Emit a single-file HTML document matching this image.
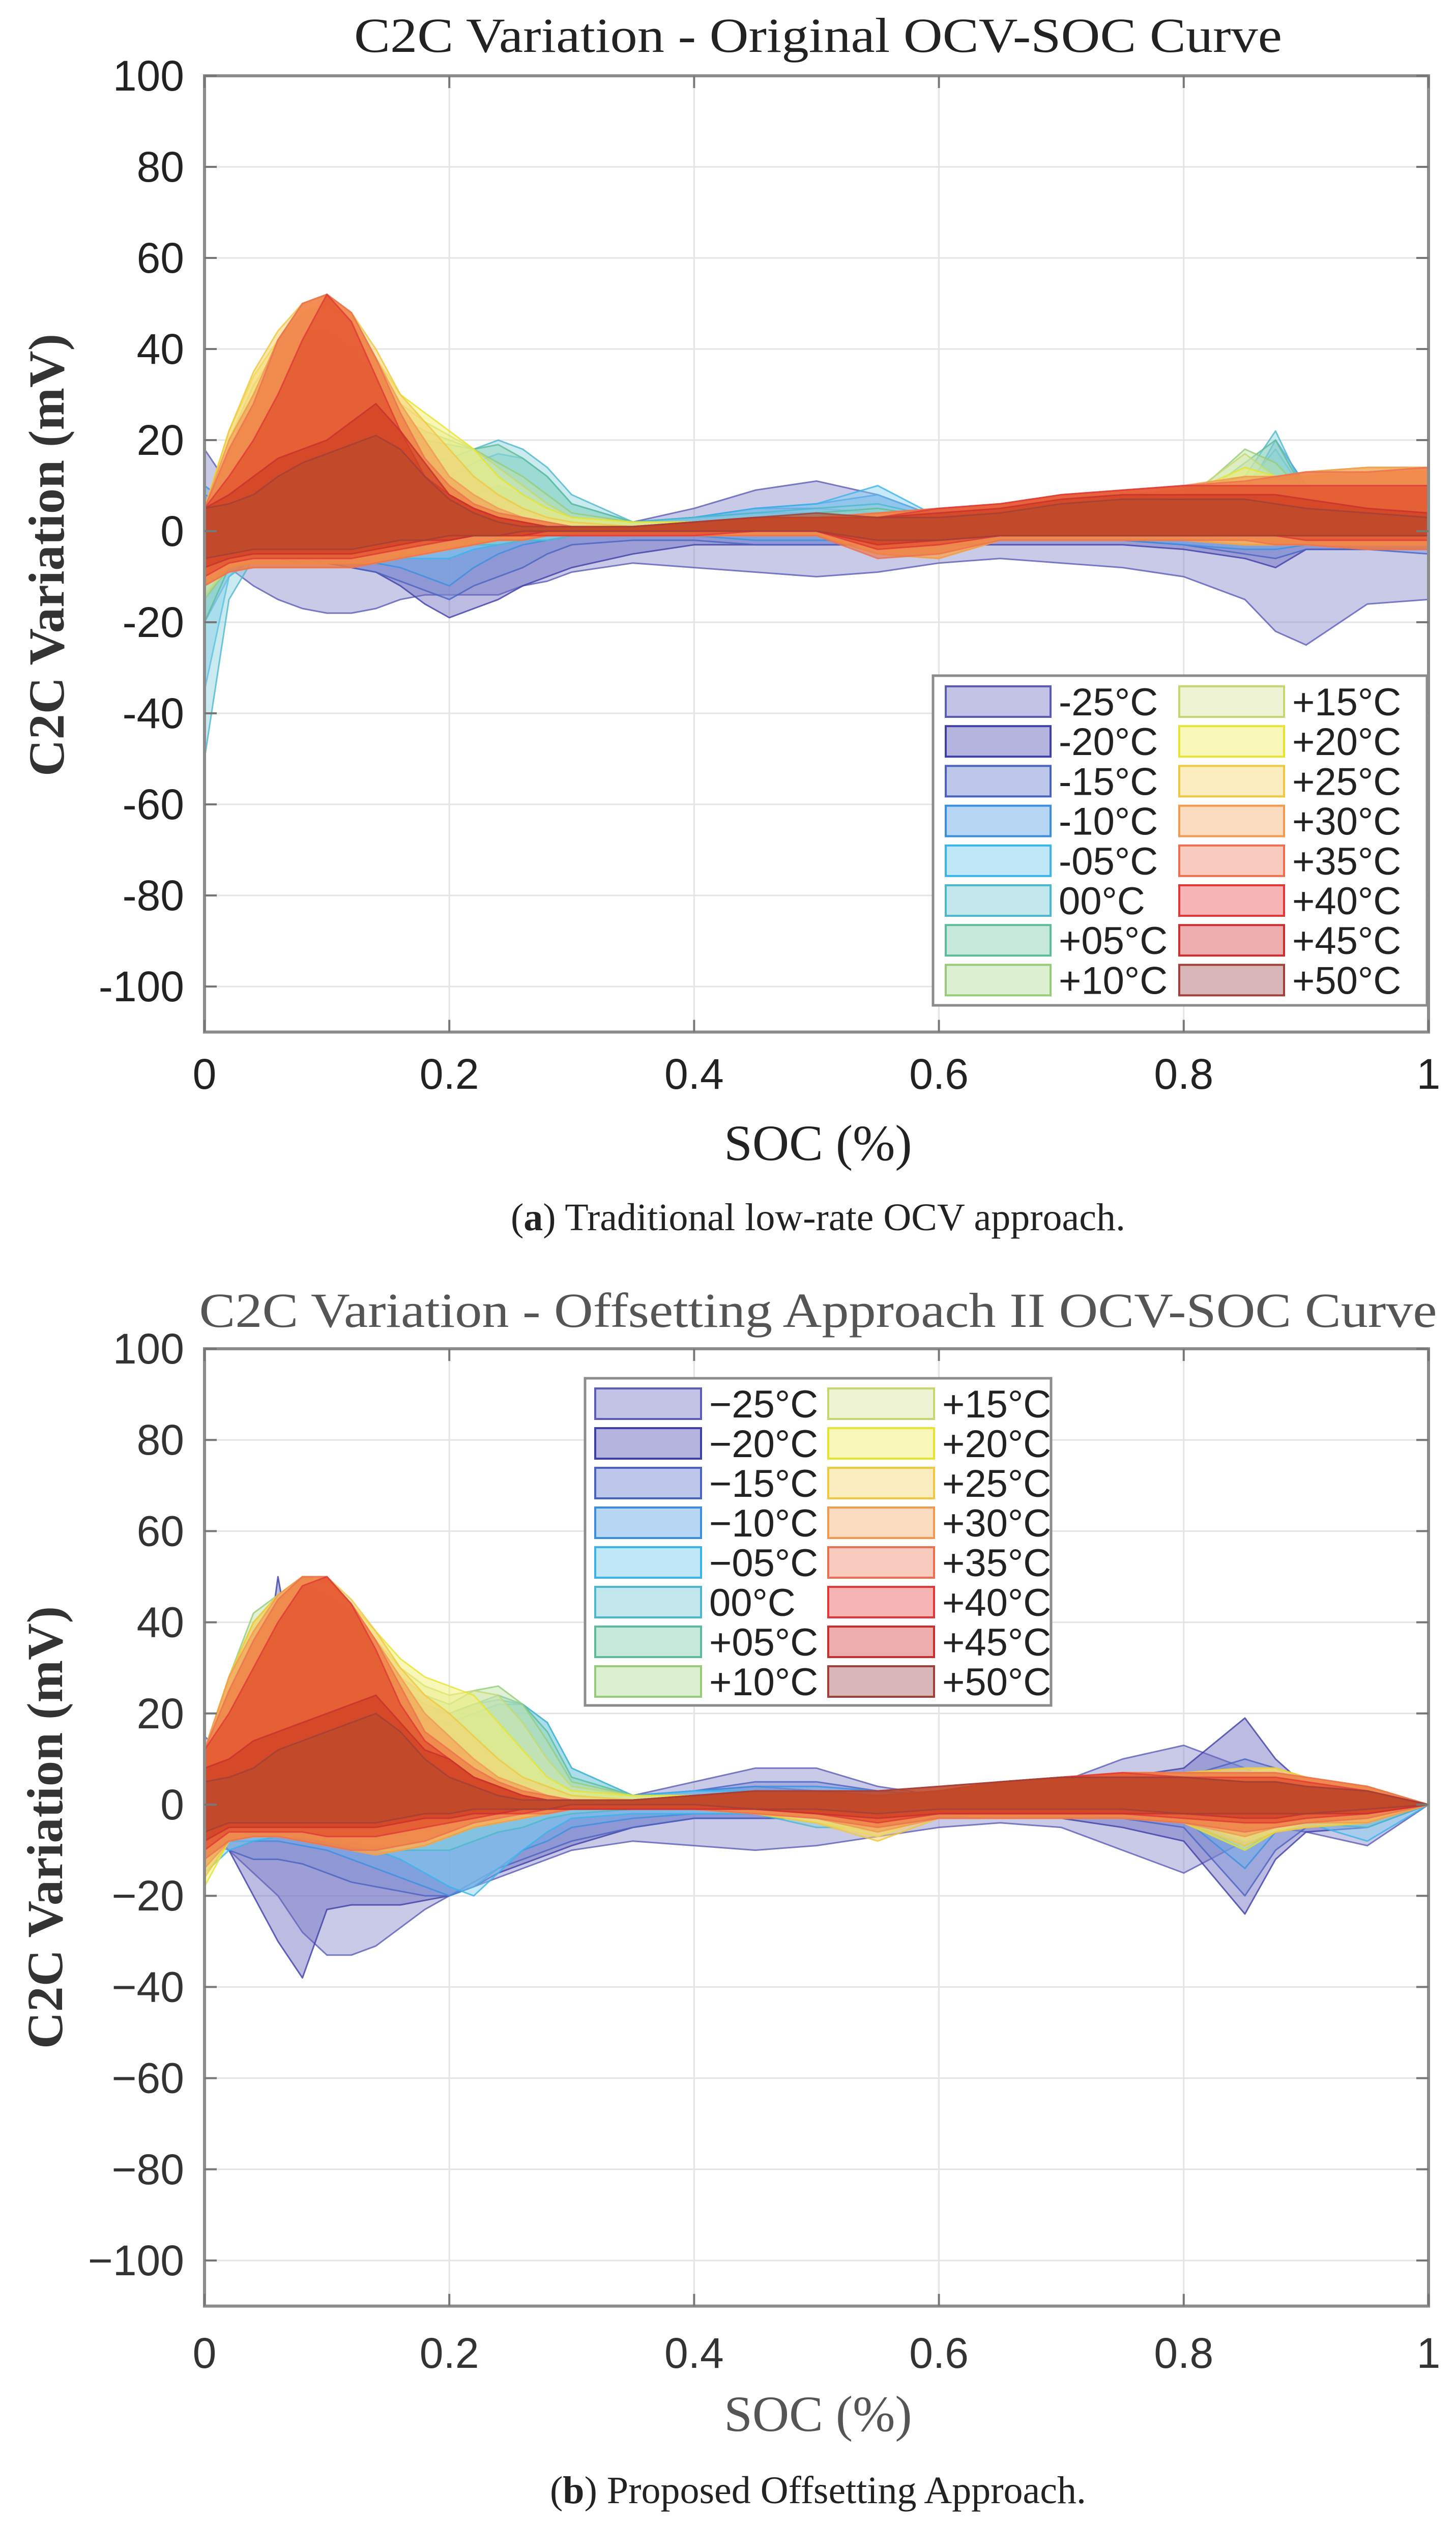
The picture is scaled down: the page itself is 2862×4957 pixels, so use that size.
<!DOCTYPE html>
<html><head><meta charset="utf-8"><style>
body{margin:0;background:#fff}
svg{display:block}
</style></head><body>
<svg id="fig" width="2862" height="4957" viewBox="0 0 2862 4957" xmlns="http://www.w3.org/2000/svg">
<rect width="2862" height="4957" fill="#fff"/>
</svg>
<script>
// ===== data =====
const socGrid = [0,0.02,0.04,0.06,0.08,0.10,0.12,0.14,0.16,0.18,0.20,0.22,0.24,0.26,0.28,0.30,0.35,0.40,0.45,0.50,0.55,0.60,0.65,0.70,0.75,0.80,0.85,0.875,0.90,0.95,1.0];
const tempLabels = ["-25°C","-20°C","-15°C","-10°C","-05°C","00°C","+05°C","+10°C","+15°C","+20°C","+25°C","+30°C","+35°C","+40°C","+45°C","+50°C"];
const yTicks = [100,80,60,40,20,0,-20,-40,-60,-80,-100];
const xTicks = [0,0.2,0.4,0.6,0.8,1];
const xTickLabels = ["0","0.2","0.4","0.6","0.8","1"];

// Chart A (original OCV) upper / lower bounds
const aUpper = [
[18,10,5,4,3,3,3,3,3,2,2,2,2,2,2,1,2,5,9,11,8,3,2,2,2,3,5,8,6,4,5],
[5,4,3,3,3,3,3,3,2,2,2,2,1,1,1,1,2,3,4,4,3,2,2,2,2,3,4,5,4,2,1],
[8,6,5,5,5,5,6,6,5,4,4,3,2,2,1,1,2,3,5,5,4,2,2,2,2,3,5,10,6,3,2],
[10,6,6,7,8,8,8,8,8,7,6,8,10,8,5,3,2,3,5,6,8,3,2,2,3,3,8,20,10,5,4],
[5,8,12,14,14,13,13,13,12,11,12,15,17,16,12,6,2,3,5,6,10,3,2,2,3,3,10,18,8,5,4],
[3,10,18,22,22,20,19,18,17,15,16,18,20,18,14,8,2,3,4,5,6,3,2,2,3,3,12,22,8,5,4],
[5,15,25,34,36,32,28,24,22,20,19,18,19,16,12,6,2,2,3,4,5,3,3,4,5,5,15,20,8,6,5],
[5,18,30,38,42,40,36,30,25,22,20,18,15,12,8,4,2,2,3,3,4,3,3,4,5,6,18,15,8,7,6],
[5,20,32,40,44,44,40,34,28,24,21,18,14,10,6,3,2,2,3,3,4,3,4,5,6,7,17,12,9,10,10],
[5,22,34,42,48,50,46,38,30,26,22,18,12,8,5,3,2,2,3,3,4,4,5,6,7,8,14,12,12,13,13],
[5,22,35,44,50,52,48,40,30,24,18,12,8,5,3,2,1,2,3,3,4,4,5,7,8,9,12,12,13,14,14],
[5,20,30,42,50,52,48,38,28,20,12,8,5,3,2,1,1,2,3,3,4,5,6,8,9,10,12,12,13,14,14],
[5,18,28,42,50,52,48,38,26,16,10,6,4,3,2,1,1,2,3,3,4,5,6,8,9,10,11,12,13,13,14],
[5,12,20,30,42,52,46,34,22,12,8,5,3,2,1,1,1,2,3,3,3,5,6,8,9,10,10,10,10,10,10],
[5,8,12,16,18,20,24,28,22,15,8,5,3,2,1,1,1,2,3,3,3,4,5,7,8,8,8,8,7,5,4],
[5,6,8,12,15,17,19,21,18,12,7,4,2,1,1,1,1,2,3,4,3,3,4,6,7,7,7,6,5,4,3]
];
const aLower = [
[-5,-8,-12,-15,-17,-18,-18,-17,-15,-14,-14,-14,-14,-12,-11,-9,-7,-8,-9,-10,-9,-7,-6,-7,-8,-10,-15,-22,-25,-16,-15],
[-3,-5,-6,-6,-7,-7,-8,-9,-12,-16,-19,-17,-15,-12,-10,-8,-5,-3,-3,-3,-3,-3,-3,-3,-3,-4,-6,-8,-4,-4,-4],
[-10,-8,-6,-6,-6,-7,-8,-9,-11,-13,-15,-12,-10,-8,-5,-3,-2,-2,-3,-3,-3,-2,-2,-2,-2,-3,-5,-6,-4,-4,-5],
[-20,-10,-6,-5,-5,-5,-6,-7,-8,-10,-12,-8,-5,-3,-2,-1,-1,-1,-2,-2,-2,-2,-2,-2,-2,-3,-4,-4,-3,-3,-3],
[-35,-10,-5,-4,-4,-4,-4,-5,-6,-6,-6,-4,-3,-2,-2,-1,-1,-1,-1,-1,-1,-1,-1,-1,-1,-2,-3,-3,-2,-2,-2],
[-50,-15,-6,-5,-5,-5,-5,-5,-5,-4,-4,-3,-3,-2,-2,-1,-1,-1,-1,-1,-1,-1,-1,-1,-1,-2,-3,-3,-2,-2,-2],
[-20,-8,-5,-5,-5,-5,-5,-5,-5,-4,-4,-3,-2,-2,-1,-1,-1,-1,-1,-1,-1,-1,-1,-1,-1,-1,-2,-2,-2,-2,-2],
[-15,-8,-6,-6,-6,-6,-6,-6,-5,-5,-4,-3,-2,-2,-1,-1,-1,-1,-1,-1,-2,-2,-1,-1,-1,-1,-2,-2,-2,-2,-2],
[-14,-8,-6,-6,-6,-6,-6,-6,-5,-5,-4,-3,-2,-2,-1,-1,-1,-1,-1,-1,-3,-3,-2,-2,-2,-2,-2,-3,-3,-3,-3],
[-12,-8,-7,-7,-7,-7,-7,-7,-6,-5,-4,-3,-2,-2,-1,-1,-1,-1,-1,-1,-4,-5,-2,-2,-2,-2,-3,-3,-3,-3,-3],
[-12,-8,-7,-7,-7,-7,-7,-7,-6,-5,-4,-3,-2,-2,-1,-1,-1,-1,-1,-1,-5,-6,-2,-2,-2,-2,-3,-3,-3,-3,-3],
[-12,-9,-8,-8,-8,-8,-8,-7,-6,-5,-4,-3,-2,-2,-1,-1,-1,-1,-1,-1,-5,-6,-2,-2,-2,-2,-3,-3,-3,-4,-4],
[-12,-9,-8,-8,-8,-8,-8,-7,-6,-5,-4,-3,-2,-2,-1,-1,-1,-1,-1,-1,-6,-5,-2,-2,-2,-2,-2,-3,-3,-4,-4],
[-10,-7,-6,-6,-6,-6,-6,-5,-4,-3,-2,-1,-1,-1,-1,-1,-1,-1,0,0,-4,-3,-1,-1,-1,-1,-1,-1,-2,-2,-2],
[-8,-6,-5,-5,-5,-5,-5,-4,-3,-2,-2,-1,-1,-1,0,0,0,0,0,0,-3,-2,-1,-1,-1,-1,-1,-1,-1,-1,-1],
[-6,-5,-4,-4,-4,-4,-4,-3,-2,-2,-1,-1,-1,0,0,0,0,0,0,0,-2,-2,-1,-1,-1,-1,-1,-1,-1,-1,-1]
];

// Chart B (offsetting approach II) upper / lower bounds
const bUpper = [
[15,10,8,6,5,5,4,4,3,3,3,2,2,2,2,1,2,5,8,8,4,2,3,5,10,13,8,5,4,3,0],
[12,8,10,50,20,6,5,4,3,3,3,2,2,2,2,1,2,3,4,3,2,2,3,4,6,8,19,10,4,3,0],
[10,8,8,8,8,8,8,7,6,5,4,3,2,2,1,1,2,3,5,5,3,2,3,4,5,6,10,8,4,3,0],
[10,8,8,10,12,12,12,11,10,9,8,7,6,5,4,2,2,3,4,4,3,2,3,4,5,5,6,6,4,3,0],
[12,15,25,45,40,30,26,22,20,19,18,20,22,22,18,8,2,3,3,3,2,2,3,4,5,5,6,6,4,3,0],
[10,20,38,45,44,38,33,28,24,21,20,22,23,22,18,8,2,2,3,3,2,2,3,4,5,5,6,6,4,3,0],
[10,25,40,45,45,40,35,30,26,22,20,22,24,22,16,6,2,2,3,3,2,2,3,4,5,6,6,6,4,3,0],
[10,28,42,46,46,42,38,32,28,24,22,25,26,22,14,5,2,2,3,3,2,3,4,5,6,7,7,7,5,4,0],
[10,28,40,46,48,46,42,36,30,26,24,25,24,18,10,4,2,2,3,3,2,3,4,5,6,7,7,8,6,4,0],
[12,28,40,46,50,49,44,38,32,28,26,24,18,12,6,3,2,2,3,3,2,3,4,6,7,7,8,8,6,4,0],
[12,28,40,46,50,50,45,38,30,24,20,15,10,6,4,2,1,2,3,3,2,3,5,6,7,7,8,8,6,4,0],
[12,28,38,46,50,50,44,36,28,20,15,10,6,4,2,1,1,2,3,3,2,3,5,6,7,7,7,7,6,4,0],
[12,25,36,45,50,50,44,36,26,16,12,8,5,3,2,1,1,2,3,3,2,3,5,6,7,7,7,7,6,4,0],
[12,20,30,40,48,50,44,34,22,14,10,6,4,2,1,1,1,2,3,3,2,3,5,6,7,6,6,6,5,3,0],
[8,10,14,16,18,20,22,24,18,12,10,6,4,2,1,1,1,2,3,3,3,4,5,6,6,6,5,5,4,3,0],
[5,6,8,12,14,16,18,20,16,10,6,4,2,1,1,1,1,2,3,3,3,4,5,6,6,6,5,5,4,3,0]
];
const bLower = [
[-5,-10,-15,-20,-28,-33,-33,-31,-27,-23,-20,-18,-16,-14,-12,-10,-8,-9,-10,-9,-7,-5,-4,-5,-10,-15,-8,-5,-6,-9,0],
[-5,-10,-20,-30,-38,-23,-22,-22,-22,-21,-20,-18,-15,-13,-11,-9,-5,-3,-3,-3,-3,-3,-3,-3,-5,-8,-24,-12,-6,-5,0],
[-8,-10,-12,-12,-13,-15,-17,-18,-19,-20,-20,-17,-14,-12,-10,-8,-5,-3,-3,-3,-3,-2,-2,-2,-3,-5,-20,-10,-5,-4,0],
[-10,-8,-8,-8,-9,-10,-12,-14,-16,-18,-20,-18,-14,-10,-8,-5,-3,-2,-2,-3,-3,-2,-2,-2,-2,-3,-14,-6,-4,-3,0],
[-15,-10,-8,-7,-7,-8,-9,-10,-12,-15,-18,-20,-15,-10,-6,-3,-2,-2,-2,-4,-5,-2,-2,-2,-2,-3,-10,-5,-4,-8,0],
[-12,-8,-6,-6,-6,-7,-8,-9,-10,-10,-10,-8,-6,-5,-3,-2,-1,-1,-2,-5,-5,-2,-2,-2,-2,-3,-8,-5,-4,-5,0],
[-12,-7,-6,-6,-6,-7,-8,-9,-9,-8,-7,-5,-4,-3,-2,-1,-1,-1,-2,-4,-5,-2,-2,-2,-2,-3,-6,-5,-4,-4,0],
[-14,-7,-6,-6,-6,-7,-8,-9,-9,-8,-7,-5,-4,-3,-2,-1,-1,-1,-2,-4,-6,-2,-2,-2,-2,-3,-7,-6,-4,-4,0],
[-15,-8,-6,-6,-6,-7,-8,-9,-9,-8,-7,-5,-4,-3,-2,-1,-1,-1,-2,-4,-6,-2,-2,-2,-2,-3,-8,-6,-4,-4,0],
[-18,-8,-7,-7,-7,-8,-9,-10,-10,-9,-7,-5,-4,-3,-2,-1,-1,-1,-2,-4,-7,-2,-3,-3,-3,-4,-10,-6,-5,-4,0],
[-16,-8,-7,-7,-8,-9,-10,-11,-10,-9,-7,-5,-4,-3,-2,-1,-1,-1,-2,-4,-8,-3,-3,-3,-3,-4,-9,-6,-5,-4,0],
[-14,-8,-7,-7,-8,-9,-10,-11,-10,-9,-7,-5,-4,-3,-2,-1,-1,-1,-2,-3,-6,-3,-3,-3,-3,-4,-7,-5,-4,-4,0],
[-12,-8,-7,-7,-8,-9,-10,-10,-9,-8,-6,-4,-3,-2,-2,-1,-1,-1,-2,-3,-5,-3,-3,-3,-3,-4,-6,-5,-4,-3,0],
[-10,-6,-6,-6,-6,-7,-7,-7,-6,-5,-4,-3,-2,-2,-1,-1,-1,-1,-1,-2,-4,-2,-2,-2,-2,-3,-4,-4,-3,-2,0],
[-8,-5,-5,-5,-5,-5,-5,-5,-4,-3,-3,-2,-2,-1,-1,-1,-1,-1,-1,-2,-3,-2,-2,-2,-2,-2,-3,-3,-2,-2,0],
[-6,-4,-4,-4,-4,-4,-4,-4,-3,-2,-2,-1,-1,-1,-1,0,0,0,-1,-1,-2,-1,-1,-1,-1,-2,-2,-2,-2,-1,0]
];

// ===== rendering =====
const NS = "http://www.w3.org/2000/svg";
const svg = document.getElementById("fig");
const strokeCols = ["#5c5cb8","#3f3fa8","#4a62c0","#3a8ee0","#38b4ea","#4cb8cc","#5cbc98","#96cc78","#c4d870","#e6e430","#eec840","#f09a50","#ec7050","#e03838","#c83030","#a04038"];
const fillCols = ["#8888cc","#6a6ac0","#7c90d4","#70aee8","#80d0f2","#88d0dc","#90d4b8","#bce0a4","#dce8a8","#f4f070","#f8d070","#f49a50","#ee7040","#e04a2a","#cc3e22","#b84a2a"];
const legendFill = ["#8888cc","#6a6ac0","#7c90d4","#70aee8","#80d0f2","#88d0dc","#90d4b8","#bce0a4","#dce8a8","#f4f070","#f8dc80","#f8b880","#f49880","#ee6a6a","#d85c5c","#b07070"];
const fillOp = [0.45,0.45,0.45,0.45,0.45,0.45,0.45,0.45,0.45,0.5,0.55,0.6,0.6,0.65,0.65,0.65];

function el(tag, attrs, parent){
  const e = document.createElementNS(NS, tag);
  for (const k in attrs) e.setAttribute(k, attrs[k]);
  (parent||svg).appendChild(e);
  return e;
}

function drawChart(c){
  const g = el("g", {});
  
  
  const xs = v => c.left + v*(c.right-c.left);
  const ys = v => c.y100 + (100-v)*c.k;
  const bottom = ys(-110);
  yTicks.forEach(t => {
    const ln = el("line", {x1:c.left,x2:c.right,y1:ys(t),y2:ys(t),stroke:"#e4e4e4","stroke-width":3}, g);
    
    
  });
  xTicks.forEach(t => {
    const ln = el("line", {x1:xs(t),x2:xs(t),y1:c.y100,y2:bottom,stroke:"#e4e4e4","stroke-width":3}, g);
    
    
  });
  for (let s=0; s<c.upper.length; s++){
    let d = "";
    socGrid.forEach((x,i)=>{ d += (i?"L":"M")+xs(x).toFixed(1)+","+ys(c.upper[s][i]).toFixed(1); });
    for (let i=socGrid.length-1;i>=0;i--){ d += "L"+xs(socGrid[i]).toFixed(1)+","+ys(c.lower[s][i]).toFixed(1); }
    d += "Z";
    const p = el("path", {d:d, fill:fillCols[s], "fill-opacity":fillOp[s], stroke:strokeCols[s], "stroke-width":3, "stroke-opacity":0.8, "stroke-linejoin":"round"}, g);
    
    
  }
  const box = el("rect", {x:c.left,y:c.y100,width:c.right-c.left,height:bottom-c.y100,fill:"none",stroke:"#8c8c8c","stroke-width":6}, g);
  
  
  yTicks.forEach(t => {
    el("line",{x1:c.left,x2:c.left+24,y1:ys(t),y2:ys(t),stroke:"#777","stroke-width":4},g);
    el("line",{x1:c.right-24,x2:c.right,y1:ys(t),y2:ys(t),stroke:"#777","stroke-width":4},g);
    const tx = el("text",{x:c.left-40,y:ys(t)+29,"text-anchor":"end","font-family":"Liberation Sans, sans-serif","font-size":84,fill:c.tickCol},g);
    tx.textContent = c.minus ? String(t).replace("-","\u2212") : String(t);
    
    
  });
  xTicks.forEach((t,i) => {
    el("line",{x1:xs(t),x2:xs(t),y1:bottom,y2:bottom-24,stroke:"#777","stroke-width":4},g);
    el("line",{x1:xs(t),x2:xs(t),y1:c.y100,y2:c.y100+24,stroke:"#777","stroke-width":4},g);
    const tx = el("text",{x:xs(t),y:c.xTickY,"text-anchor":"middle","font-family":"Liberation Sans, sans-serif","font-size":84,fill:c.tickCol},g);
    tx.textContent = xTickLabels[i];
    
    
  });
  const ti = el("text",{x:1608,y:c.titleY,"text-anchor":"middle","font-family":"Liberation Serif, serif","font-size":96,fill:c.titleCol,textLength:c.titleLen,lengthAdjust:"spacingAndGlyphs"},g);
  ti.textContent = c.title;
  
  
  const xl = el("text",{x:1608,y:c.xLabelY,"text-anchor":"middle","font-family":"Liberation Serif, serif","font-size":100,fill:c.titleCol},g);
  xl.textContent = "SOC (%)";
  
  
  const yl = el("text",{x:0,y:0,"text-anchor":"middle","font-family":"Liberation Serif, serif","font-size":100,"font-weight":"bold",fill:"#333",transform:`translate(${c.yLabelX},${c.yLabelY}) rotate(-90)`,textLength:870,lengthAdjust:"spacingAndGlyphs"},g);
  yl.textContent = "C2C Variation (mV)";
  
  
  const cap = el("text",{x:1608,y:c.capY,"text-anchor":"middle","font-family":"Liberation Serif, serif","font-size":76,fill:"#222"},g);
  cap.innerHTML = `(<tspan font-weight="bold">${c.capLetter}</tspan>) ${c.capText}`;
  
  
  const L = c.legend;
  const lg = el("g",{},g);
  
  
  el("rect",{x:L.x0,y:L.y0,width:L.x1-L.x0,height:L.y1-L.y0,fill:"#fff",stroke:"#8c8c8c","stroke-width":5},lg);
  tempLabels.forEach((lab,i) => {
    const col = i<8?0:1, row = i%8;
    const cy = L.row0 + row*L.step;
    const sx = col ? L.sx2 : L.sx1;
    const sw = el("rect",{x:sx,y:cy-30,width:L.sw,height:60,fill:legendFill[i],"fill-opacity":0.5,stroke:strokeCols[i],"stroke-width":4},lg);
    
    
    const t = el("text",{x:sx+L.sw+16,y:cy+27,"font-family":"Liberation Sans, sans-serif","font-size":76,fill:"#222"},lg);
    t.textContent = c.minus ? lab.replace("-","\u2212") : lab;
    
    
  });
}

drawChart({name:"chart-a-original", left:402, right:2808, y100:149, k:8.95, upper:aUpper, lower:aLower,
  tickCol:"#222", titleCol:"#222", minus:false, xTickY:2140,
  title:"C2C Variation - Original OCV-SOC Curve", titleY:102, titleLen:1824,
  xLabelY:2280, yLabelX:125, yLabelY:1091, capY:2418, capLetter:"a", capText:"Traditional low-rate OCV approach.",
  legend:{x0:1834,x1:2805,y0:1328,y1:1976,row0:1379,step:78.2,sx1:1859,sx2:2318,sw:206}});

drawChart({name:"chart-b-offsetting", left:402, right:2808, y100:2651, k:8.96, upper:bUpper, lower:bLower,
  tickCol:"#333", titleCol:"#555", minus:true, xTickY:4654,
  title:"C2C Variation - Offsetting Approach II OCV-SOC Curve", titleY:2608, titleLen:2433,
  xLabelY:4778, yLabelX:122, yLabelY:3592, capY:4920, capLetter:"b", capText:"Proposed Offsetting Approach.",
  legend:{x0:1150,x1:2066,y0:2709,y1:3352,row0:2759,step:78,sx1:1170,sx2:1628,sw:208}});
</script>
</body></html>
